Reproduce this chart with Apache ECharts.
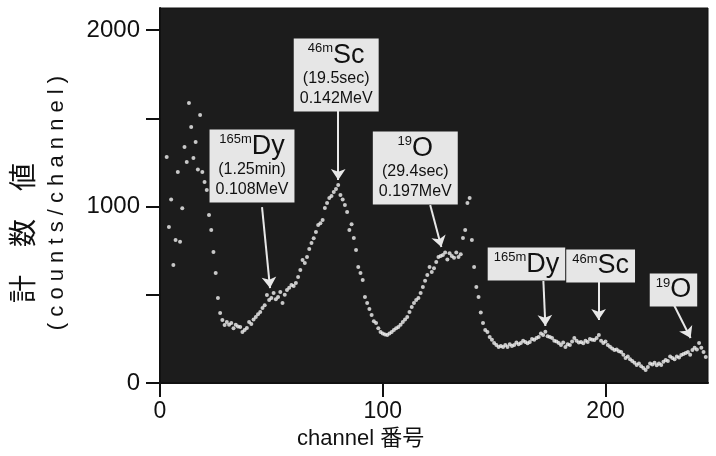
<!DOCTYPE html>
<html>
<head>
<meta charset="utf-8">
<script src="https://cdn.jsdelivr.net/npm/echarts@6/dist/echarts.min.js"></script>
<style>
  html, body { margin: 0; padding: 0; background: #fff; }
  #chart { width: 716px; height: 456px; }
</style>
</head>
<body>
<div id="chart"></div>
<script>
// spectrum: counts per channel, starting at channel 3
var firstChannel = 3;
var counts = [
  1280, 884, 1040, 668, 810, 1195, 800, 990, 1337, 1252,
  1586, 1450, 1275, 1365, 1210, 1518, 1195, 1139, 1093, 952,
  867, 742, 623, 482, 397, 357, 329, 345, 330, 340,
  310, 330, 320, 317, 289, 300, 312, 346, 335, 360,
  374, 390, 402, 425, 440, 499, 470, 482, 510, 475,
  487, 516, 453, 500, 527, 540, 555, 550, 567, 600,
  640, 697, 680, 714, 760, 793, 820, 856, 895, 905,
  924, 991, 1020, 1048, 1060, 1082, 1100, 1122, 1065, 1040,
  1008, 969, 867, 900, 822, 754, 657, 623, 584, 487,
  453, 420, 385, 350, 340, 310, 289, 280, 275, 272,
  280, 289, 300, 310, 317, 330, 346, 360, 374, 402,
  430, 453, 470, 482, 510, 544, 580, 612, 657, 629,
  650, 686, 714, 720, 725, 740, 700, 735, 720, 710,
  740, 714, 730, 822, 867, 1020, 1048, 810, 657, 544,
  487, 400, 340, 300, 289, 261, 245, 227, 215, 204,
  210, 204, 215, 204, 220, 210, 215, 230, 220, 227,
  240, 232, 225, 232, 250, 245, 255, 261, 280, 272,
  290, 265, 261, 255, 240, 235, 227, 215, 230, 204,
  220, 215, 235, 255, 240, 230, 232, 225, 240, 232,
  250, 245, 244, 255, 272, 240, 227, 235, 215, 205,
  195, 187, 190, 180, 176, 160, 142, 150, 135, 125,
  115, 102, 110, 95, 85, 74, 90, 110, 105, 115,
  100, 110, 102, 120, 130, 125, 150, 142, 135, 150,
  145, 159, 165, 170, 175, 160, 187, 200, 190, 227,
  200, 175, 147
];

var yLabelValues = [0, 1000, 2000];

// peak labels: box centre [channel, count] and arrow from -> to
var boxText = [
  '{sup|165m}{big|Dy}\n{mid|(1.25min)}\n{mid|0.108MeV}',
  '{sup|46m}{big|Sc}\n{mid|(19.5sec)}\n{mid|0.142MeV}',
  '{sup|19}{big|O}\n{mid|(29.4sec)}\n{mid|0.197MeV}',
  '{sup|165m}{big|Dy}',
  '{sup|46m}{big|Sc}',
  '{sup|19}{big|O}'
];
var boxPos = [[41.3, 1229], [79.1, 1745], [114.6, 1218], [164.5, 674], [197.8, 663], [230.5, 527]];
var arrowFrom = [[45.8, 997], [80, 1547], [121.3, 1008], [172.1, 578], [196.9, 578], [230.5, 448]];
var arrowTo = [[49.4, 538], [80, 1150], [126.3, 770], [173, 323], [196.9, 357], [238.2, 255]];

var points = counts.map(function (v, i) { return [firstChannel + i, v]; });

var chart = echarts.init(document.getElementById('chart'));

var labelFont = 'Liberation Sans';
var rich = {
  sup: { fontSize: 13, fontFamily: labelFont, color: '#111', verticalAlign: 'top', padding: [0, 0, 10, 0] },
  big: { fontSize: 27, fontFamily: labelFont, color: '#111' },
  mid: { fontSize: 16, fontFamily: labelFont, color: '#111', lineHeight: 20 }
};

var option = {
  backgroundColor: '#fff',
  animation: false,
  grid: {
    left: 160, right: 8, top: 8, bottom: 73,
    containLabel: false, outerBoundsMode: 'none',
    show: true, backgroundColor: '#1c1c1c', borderColor: '#111', borderWidth: 1
  },
  xAxis: {
    type: 'value', min: 0, max: 246, interval: 100,
    axisLine: { show: true, lineStyle: { color: '#111', width: 2 } },
    axisTick: { show: true, length: 14, lineStyle: { color: '#111', width: 2 } },
    axisLabel: { fontSize: 23, color: '#111', fontFamily: labelFont, margin: 17, showMaxLabel: false },
    splitLine: { show: false }
  },
  yAxis: {
    type: 'value', min: 0, max: 2125, interval: 500,
    axisLine: { show: true, lineStyle: { color: '#111', width: 2 } },
    axisTick: { show: true, length: 14, lineStyle: { color: '#111', width: 2 } },
    axisLabel: {
      fontSize: 24, color: '#111', fontFamily: labelFont, margin: 20, showMaxLabel: false,
      formatter: function (v) { return yLabelValues.indexOf(v) >= 0 ? String(v) : ''; }
    },
    splitLine: { show: false }
  },
  graphic: [
    {
      type: 'text', left: 297, top: 428,
      style: { text: 'channel 番号', fontSize: 22, fill: '#111', fontFamily: 'Liberation Sans, Noto Sans CJK JP' }
    },
    {
      type: 'text', x: 22, y: 233, rotation: Math.PI / 2,
      style: { text: '計\u2002\u2002数\u2002\u2002値', fontSize: 28, fill: '#111', align: 'center', verticalAlign: 'middle', fontFamily: 'Noto Sans CJK JP' }
    },
    {
      type: 'text', x: 57, y: 203, rotation: Math.PI / 2,
      style: { text: '( c o u n t s / c h a n n e l )', fontSize: 22, fill: '#111', align: 'center', verticalAlign: 'middle', fontFamily: labelFont }
    }
  ],
  series: [{
    type: 'scatter',
    data: points,
    symbolSize: 4,
    itemStyle: { color: '#f4f4f4' },
    markLine: {
      silent: true,
      symbol: ['none', 'arrow'],
      symbolSize: 11,
      label: { show: false },
      lineStyle: { color: '#e8e8e8', width: 2, type: 'solid' },
      data: arrowFrom.map(function (f, i) {
        return [{ coord: f }, { coord: arrowTo[i] }];
      })
    },
    markPoint: {
      silent: true,
      symbol: 'rect',
      symbolSize: 0,
      data: boxPos.map(function (p, i) {
        return {
          coord: p,
          label: {
            show: true, position: 'inside', formatter: boxText[i],
            backgroundColor: '#e6e6e6', padding: [3, 6, 3, 6],
            align: 'center', rich: rich
          }
        };
      })
    }
  }]
};

chart.setOption(option);
</script>
</body>
</html>
